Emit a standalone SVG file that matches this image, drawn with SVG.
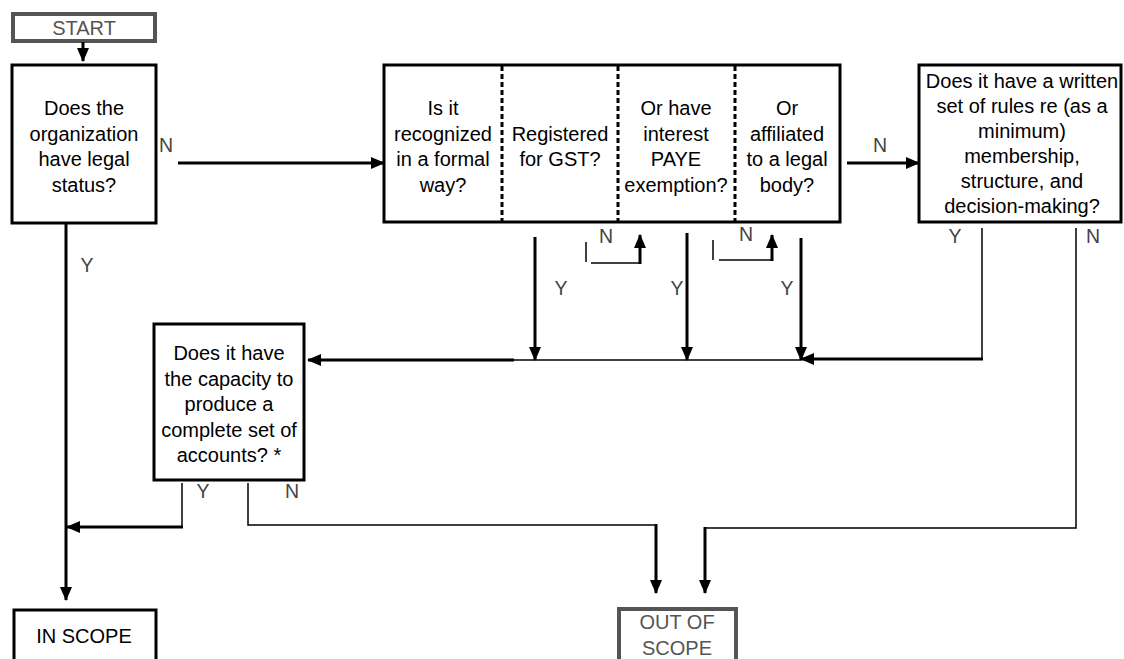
<svg xmlns="http://www.w3.org/2000/svg" width="1124" height="659" viewBox="0 0 1124 659">
<style>
  .box { fill: #fff; stroke: #000; stroke-width: 3; }
  .gbox { fill: #fff; stroke: #555; stroke-width: 4; }
  .t { font-family: "Liberation Sans", Arial, sans-serif; font-size: 20px; fill: #000; text-anchor: middle; }
  .gt { font-family: "Liberation Sans", Arial, sans-serif; font-size: 20px; fill: #555; text-anchor: middle; }
  .lbl { font-family: "Liberation Sans", Arial, sans-serif; font-size: 19.5px; fill: #444; text-anchor: middle; }
  .thick { fill: none; stroke: #000; stroke-width: 3; }
  .thin { fill: none; stroke: #000; stroke-width: 1.5; }
  .div { stroke: #000; stroke-width: 3; stroke-dasharray: 5 3; }
</style>
<defs>
  <marker id="ah" markerUnits="userSpaceOnUse" markerWidth="14" markerHeight="12" viewBox="0 0 14 12" refX="13" refY="6" orient="auto">
    <path d="M0,0 L14,6 L0,12 Z" fill="#000"/>
  </marker>
</defs>

<g id="start">
  <rect class="gbox" x="13" y="14" width="142" height="27" stroke-width="3.5"/>
  <text class="gt" x="84" y="35">START</text>
</g>

<g id="q-legal-status">
  <rect class="box" x="12" y="65" width="144" height="158"/>
  <text class="t" x="84" y="115">Does the</text>
  <text class="t" x="84" y="140.7">organization</text>
  <text class="t" x="84" y="166.3">have legal</text>
  <text class="t" x="84" y="192">status?</text>
</g>

<g id="q-recognized">
  <rect class="box" x="384" y="65" width="456" height="157"/>
  <line class="div" x1="502" y1="66" x2="502" y2="221"/>
  <line class="div" x1="618" y1="66" x2="618" y2="221"/>
  <line class="div" x1="735" y1="66" x2="735" y2="221"/>
  <text class="t" x="443" y="115">Is it</text>
  <text class="t" x="443" y="140.7">recognized</text>
  <text class="t" x="443" y="166.3">in a formal</text>
  <text class="t" x="443" y="192">way?</text>
  <text class="t" x="560" y="140.7">Registered</text>
  <text class="t" x="560" y="166.3">for GST?</text>
  <text class="t" x="676" y="115">Or have</text>
  <text class="t" x="676" y="140.7">interest</text>
  <text class="t" x="676" y="166.3">PAYE</text>
  <text class="t" x="676" y="192">exemption?</text>
  <text class="t" x="787" y="115">Or</text>
  <text class="t" x="787" y="140.7">affiliated</text>
  <text class="t" x="787" y="166.3">to a legal</text>
  <text class="t" x="787" y="192">body?</text>
</g>

<g id="q-written-rules">
  <rect class="box" x="919" y="65" width="202" height="157"/>
  <text class="t" x="1022" y="88">Does it have a written</text>
  <text class="t" x="1022" y="113">set of rules re (as a</text>
  <text class="t" x="1022" y="138">minimum)</text>
  <text class="t" x="1022" y="163">membership,</text>
  <text class="t" x="1022" y="188">structure, and</text>
  <text class="t" x="1022" y="213">decision-making?</text>
</g>

<g id="q-accounts">
  <rect class="box" x="154" y="324" width="150" height="156"/>
  <text class="t" x="229" y="360">Does it have</text>
  <text class="t" x="229" y="385.5">the capacity to</text>
  <text class="t" x="229" y="411">produce a</text>
  <text class="t" x="229" y="436.5">complete set of</text>
  <text class="t" x="229" y="462">accounts? *</text>
</g>

<g id="in-scope">
  <rect class="box" x="14" y="610" width="142" height="60" stroke-width="4"/>
  <text class="t" x="84" y="643">IN SCOPE</text>
</g>

<g id="out-of-scope">
  <rect class="gbox" x="619" y="609" width="117" height="60" stroke-width="4.5"/>
  <text class="gt" x="677" y="629">OUT OF</text>
  <text class="gt" x="677" y="655">SCOPE</text>
</g>

<g id="connectors">
  <line class="thick" x1="83" y1="42" x2="83" y2="61" marker-end="url(#ah)"/>
  <line class="thick" x1="178" y1="163" x2="384" y2="163" marker-end="url(#ah)"/>
  <line class="thick" x1="847" y1="163" x2="919" y2="163" marker-end="url(#ah)"/>
  <line class="thick" x1="66" y1="223" x2="66" y2="600" marker-end="url(#ah)"/>

  <line class="thick" x1="535" y1="237" x2="535" y2="360" marker-end="url(#ah)"/>
  <line class="thick" x1="687" y1="233" x2="687" y2="360" marker-end="url(#ah)"/>
  <line class="thick" x1="801" y1="238" x2="801" y2="360" marker-end="url(#ah)"/>

  <line class="thin" x1="586" y1="242" x2="586" y2="262"/>
  <line class="thin" x1="591" y1="263" x2="641" y2="263"/>
  <line class="thick" x1="640" y1="264" x2="640" y2="235" marker-end="url(#ah)"/>

  <line class="thin" x1="713" y1="240" x2="713" y2="260"/>
  <line class="thin" x1="719" y1="260" x2="773" y2="260"/>
  <line class="thick" x1="772" y1="261" x2="772" y2="235" marker-end="url(#ah)"/>

  <line class="thin" x1="982" y1="228" x2="982" y2="360"/>
  <line class="thick" x1="983" y1="359" x2="801" y2="359" marker-end="url(#ah)"/>

  <line class="thin" x1="513" y1="360" x2="801" y2="360"/>
  <line class="thick" x1="514" y1="360" x2="308" y2="360" marker-end="url(#ah)"/>

  <polyline class="thin" points="1076,228 1076,528 705,528"/>
  <line class="thick" x1="705" y1="527" x2="705" y2="593" marker-end="url(#ah)"/>

  <line class="thin" x1="182" y1="483" x2="182" y2="528"/>
  <line class="thick" x1="183" y1="527" x2="67" y2="527" marker-end="url(#ah)"/>

  <polyline class="thin" points="248,483 248,525 657,525"/>
  <line class="thick" x1="656" y1="524" x2="656" y2="593" marker-end="url(#ah)"/>

  <text class="lbl" x="166" y="152">N</text>
  <text class="lbl" x="880" y="152">N</text>
  <text class="lbl" x="87" y="272">Y</text>
  <text class="lbl" x="561" y="295">Y</text>
  <text class="lbl" x="677" y="295">Y</text>
  <text class="lbl" x="787" y="295">Y</text>
  <text class="lbl" x="606" y="243">N</text>
  <text class="lbl" x="746" y="241">N</text>
  <text class="lbl" x="955" y="243">Y</text>
  <text class="lbl" x="1093" y="243">N</text>
  <text class="lbl" x="203" y="498">Y</text>
  <text class="lbl" x="292" y="498">N</text>
</g>
</svg>
